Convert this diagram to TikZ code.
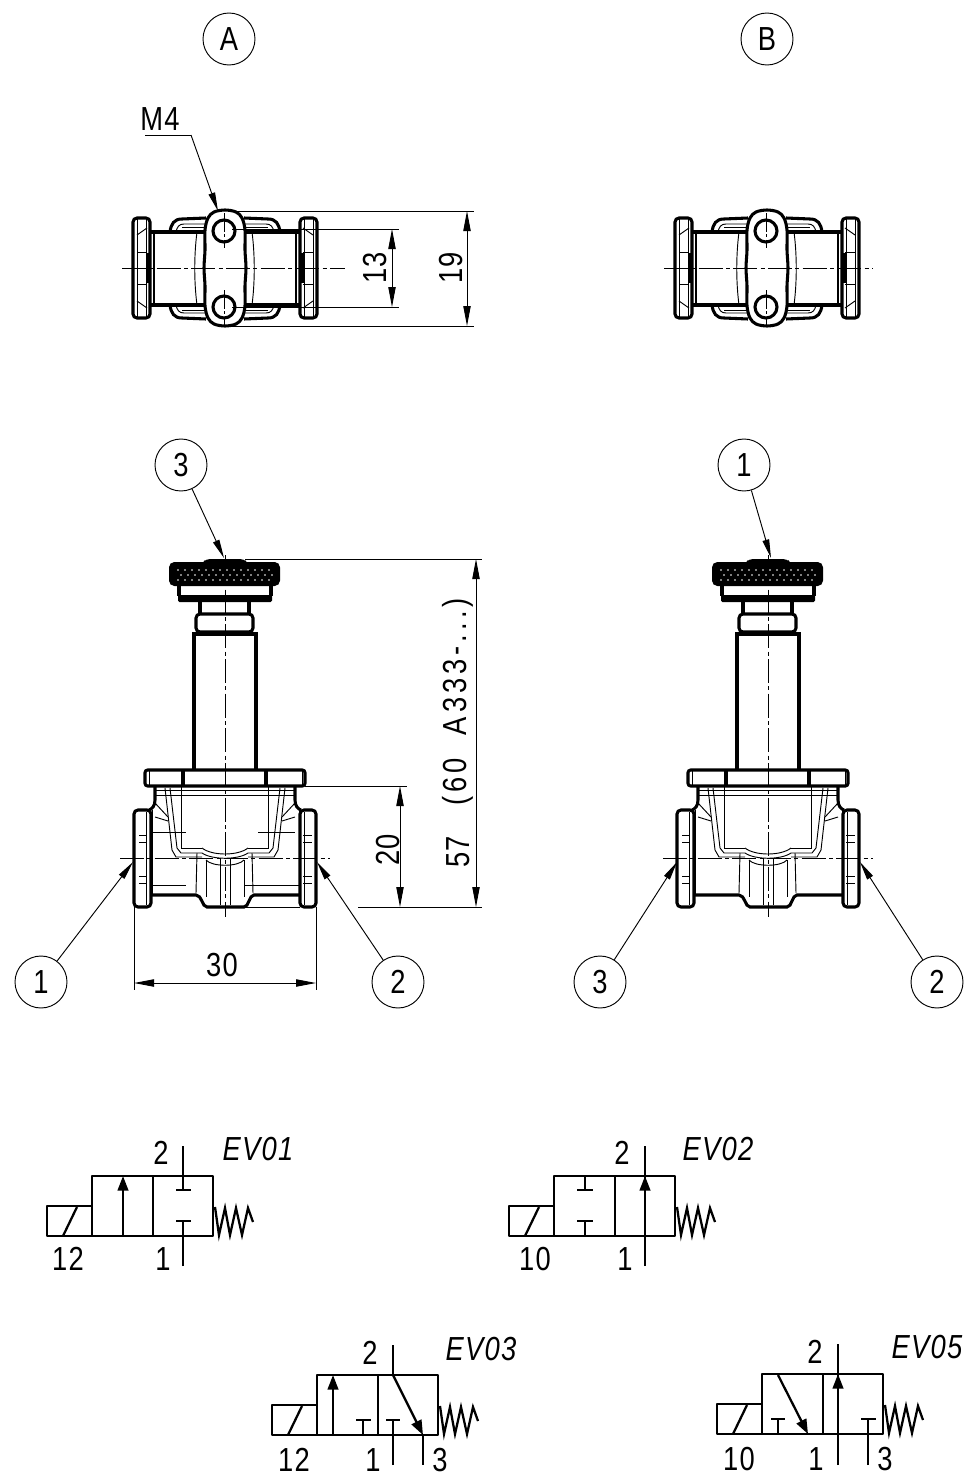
\documentclass[tikz,border=0pt]{standalone}
\usepackage{fontspec}
\setmainfont{Liberation Sans}[FakeStretch=0.82,LetterSpace=4]
\usetikzlibrary{arrows.meta}

\tikzset{
  thickl/.style={line width=2.3pt},
  thinl/.style={line width=0.7pt},
  axisl/.style={line width=0.7pt,dash pattern=on 18pt off 2.5pt on 3pt off 2.5pt},
  dimline/.style={line width=0.7pt,{Triangle[length=15pt,width=5.5pt]}-{Triangle[length=15pt,width=5.5pt]}},
  leader/.style={line width=0.7pt,-{Triangle[length=14pt,width=5pt]}},
  lbl/.style={font=\fontsize{25}{25}\selectfont,inner sep=0pt},
  ttl/.style={font=\fontsize{25}{25}\selectfont\itshape,inner sep=0pt},
  balloon/.style={circle,draw,line width=0.7pt,minimum size=39pt,inner sep=0pt,font=\fontsize{25}{25}\selectfont},
  sym/.style={line width=1.7pt},
  flowtip/.style={line width=1.7pt,-{Triangle[length=11pt,width=8pt]}}
}

\begin{document}
\begin{tikzpicture}[x=0.75pt,y=0.75pt,yscale=-1,xscale=1]
\useasboundingbox (0,0) rectangle (980,1484);

% top views
\foreach \vx in {0,542} {
\begin{scope}[shift={(\vx,0)}]
\draw[thickl,rounded corners=3] (133,218) rectangle (150,318);
\draw[thickl,rounded corners=3] (300,218) rectangle (317,318);
\draw[thickl] (147.5,253) -- (147.5,283) (302.5,253) -- (302.5,283);
\draw[thinl] (137,218) -- (137,318) (146,218) -- (146,318) (304,218) -- (304,318) (313,218) -- (313,318);
\draw[thinl] (137,252) -- (147,252) (137,284) -- (147,284) (303,252) -- (313,252) (303,284) -- (313,284);
\draw[thinl] (137,235) -- (147,228) (137,301) -- (147,308) (313,235) -- (303,228) (313,301) -- (303,308);
\draw[thickl] (150,232) -- (206,232) (150,305) -- (206,305) (244,232) -- (300,232) (244,305) -- (300,305);
\draw[line width=1.2pt] (154,232) -- (154,305) (296,232) -- (296,305);
\draw[thickl] (170,232) .. controls (171,224) and (174,219) .. (182,219) -- (206,218);
\draw[thickl] (170,305) .. controls (171,313) and (174,318) .. (182,318) -- (206,319);
\draw[thickl] (280,232) .. controls (279,224) and (276,219) .. (268,219) -- (244,218);
\draw[thickl] (280,305) .. controls (279,313) and (276,318) .. (268,318) -- (244,319);
\draw[thinl] (176,232) .. controls (177,227) and (179,224) .. (184,224) -- (206,224);
\draw[thinl] (176,305) .. controls (177,310) and (179,313) .. (184,313) -- (206,313);
\draw[thinl] (274,232) .. controls (273,227) and (271,224) .. (266,224) -- (244,224);
\draw[thinl] (274,305) .. controls (273,310) and (271,313) .. (266,313) -- (244,313);
\draw[thinl] (182,227) -- (204,227) (182,310) -- (204,310) (246,227) -- (268,227) (246,310) -- (268,310);
\draw[thinl] (197,232) .. controls (194,255) and (194,282) .. (197,305);
\draw[thinl] (252,232) .. controls (255,255) and (255,282) .. (252,305);
\draw[thickl,fill=white] plot[smooth cycle,tension=0.55] coordinates {(225,210) (236,212) (242,218) (245,230) (245,250) (246,268) (245,286) (245,306) (242,318) (236,324) (225,326) (214,324) (208,318) (205,306) (205,286) (204,268) (205,250) (205,230) (208,218) (214,212)};
\draw[thickl] (224,231) circle (11) (224,307) circle (11);
\draw[thinl,dash pattern=on 14pt off 2pt on 2pt off 2pt] (224,213) -- (224,248) (224,290) -- (224,325);
\end{scope}
}
\draw[axisl] (122,268) -- (345,268);
\draw[axisl] (664,268) -- (873,268);

% side views
\foreach \vx in {0,543} {
\begin{scope}[shift={(\vx,0)}]
\fill[rounded corners=3] (202,563) -- (206,559) -- (244,559) -- (248,563) -- cycle;
\fill[rounded corners=4] (169,562) rectangle (280,586);
\foreach \dx in {0,...,13} {
  \fill[white] ({178+7*\dx},570) circle (0.9);
  \fill[white] ({181+7*\dx},575) circle (0.9);
  \fill[white] ({178+7*\dx},580) circle (0.9);
}
\draw[thickl] (179,586) -- (179,596) (271,586) -- (271,596);
\fill[rounded corners=1] (178,595) rectangle (272,602);
\draw[thickl] (200,602) -- (200,614) (249,602) -- (249,614);
\draw[thickl,rounded corners=3] (196,614) rectangle (253,632);
\draw[thickl] (194,770) -- (194,634) -- (256,634) -- (256,770);
\draw[thickl,rounded corners=2] (145,770) rectangle (305,786);
\draw[thickl] (183,770) -- (183,786) (266,770) -- (266,786);
\draw[thinl] (149,770) -- (149,786) (302,770) -- (302,786);
\draw[thickl,rounded corners=3] (134,810) rectangle (151,907);
\draw[thickl,rounded corners=3] (300,810) rectangle (316,907);
\draw[thickl] (155,787) -- (155,800) .. controls (155,806) and (152,809) .. (149,810);
\draw[thickl] (295,787) -- (295,800) .. controls (295,806) and (298,809) .. (301,810);
\draw[thickl] (151,895) -- (196,895) .. controls (202,895) and (202,907) .. (207,907) -- (244,907) .. controls (249,907) and (249,895) .. (254,895) -- (300,895);
\draw[thinl] (146,812) -- (146,905) (304,812) -- (304,905);
\draw[thinl] (139,835) -- (147,835) (139,842) -- (147,842) (139,876) -- (147,876) (139,883) -- (147,883);
\draw[thinl] (303,835) -- (312,835) (303,842) -- (312,842) (303,876) -- (312,876) (303,883) -- (312,883);
\draw[thinl] (155,790) -- (295,790) (155,795) -- (295,795);
\draw[thinl] (181,787) -- (181,848) -- (202,848);
\draw[thinl] (268,787) -- (268,848) -- (248,848);
\draw[thinl] (165,788) -- (172,850) -- (176,857) -- (202,857);
\draw[thinl] (170,788) -- (177,848) -- (181,853) -- (202,853);
\draw[thinl] (285,788) -- (278,850) -- (274,857) -- (248,857);
\draw[thinl] (280,788) -- (273,848) -- (269,853) -- (248,853);
\draw[thinl] (155,803) -- (168,817) (155,817) -- (168,821) (295,803) -- (282,817) (295,817) -- (282,821);
\draw[thinl] (202,848) .. controls (212,856) and (238,856) .. (248,848);
\draw[thinl] (202,853) .. controls (212,860) and (238,860) .. (248,853);
\draw[thinl] (206,860) .. controls (212,867) and (238,867) .. (244,860);
\draw[thinl] (197,853) -- (196,893) (252,853) -- (253,893);
\draw[thinl] (206,860) -- (206,897) (244,860) -- (244,897);
\draw[thinl] (220,859) -- (220,905) (230,859) -- (230,905);
\draw[thinl] (152,810) -- (152,895) (299,810) -- (299,895);
\end{scope}
}
\draw[thinl] (153,832) -- (186,832) (258,832) -- (295,832);
\draw[thinl] (152,885) -- (186,885) (245,885) -- (299,885);
\draw[axisl] (225,555) -- (225,917);
\draw[axisl] (768,555) -- (768,917);
\draw[axisl] (120,858) -- (330,858);
\draw[axisl] (663,858) -- (873,858);

% view letters and balloons
\node[balloon] (viewA) at (229,39) {A};
\node[balloon] (viewB) at (767,39) {B};
\node[balloon] (portA3) at (181,465) {3};
\node[balloon] (portA1) at (41,982) {1};
\node[balloon] (portA2) at (398,982) {2};
\node[balloon] (portB1) at (744,465) {1};
\node[balloon] (portB3) at (600,982) {3};
\node[balloon] (portB2) at (937,982) {2};
\coordinate (tipA3) at (224,558);
\coordinate (tipA1) at (133,862);
\coordinate (tipA2) at (317,862);
\coordinate (tipB1) at (771,558);
\coordinate (tipB3) at (677,862);
\coordinate (tipB2) at (860,862);
\draw[leader] (portA3) -- (tipA3);
\draw[leader] (portA1) -- (tipA1);
\draw[leader] (portA2) -- (tipA2);
\draw[leader] (portB1) -- (tipB1);
\draw[leader] (portB3) -- (tipB3);
\draw[leader] (portB2) -- (tipB2);

% thread callout
\node[lbl] (threadlbl) at (160,119) {M4};
\coordinate (threadstart) at (145,135);
\coordinate (threadknee) at (191,135);
\coordinate (threadtip) at (218,211);
\draw[thinl] (threadstart) -- (threadknee);
\draw[leader] (threadknee) -- (threadtip);

% dimensions
\coordinate (d13top) at (392,229);
\coordinate (d13bot) at (392,307);
\coordinate (d19top) at (467,211);
\coordinate (d19bot) at (467,326);
\draw[thinl] (232,229) -- (399,229) (232,307) -- (399,307);
\draw[thinl] (228,211) -- (474,211) (228,326) -- (474,326);
\draw[dimline] (d13top) -- (d13bot);
\draw[dimline] (d19top) -- (d19bot);
\node[lbl,rotate=90] (d13lbl) at (375,268) {13};
\node[lbl,rotate=90] (d19lbl) at (451,268) {19};

\coordinate (d57top) at (476,559);
\coordinate (d57bot) at (476,907);
\coordinate (d20top) at (400,786);
\coordinate (d20bot) at (400,907);
\coordinate (d30left) at (134,983);
\coordinate (d30right) at (316,983);
\draw[thinl] (245,559) -- (482,559) (305,786) -- (407,786) (358,907) -- (482,907);
\draw[thinl] (245,907) -- (300,907);
\draw[thinl] (134,907) -- (134,990) (316,907) -- (316,990);
\draw[dimline] (d57top) -- (d57bot);
\draw[dimline] (d20top) -- (d20bot);
\draw[dimline] (d30left) -- (d30right);
\node[lbl,rotate=90] (d20lbl) at (388,850) {20};
\node[lbl,rotate=90] (d57lbl) at (458,852) {57};
\node[lbl,rotate=90] (d60lbl) at (458,702) {\addfontfeature{LetterSpace=12}(60 \ A333-...)};
\node[lbl] (d30lbl) at (222,965) {30};

% valve bodies
\foreach \vx/\vy in {47/1236,509/1236,272/1435,717/1434} {
\begin{scope}[shift={(\vx,\vy)}]
\draw[sym,line join=round] (45,-30) -- (0,-30) -- (0,0) -- (45,0);
\draw[sym,line join=round] (45,0) rectangle (166,-60);
\draw[sym] (106,0) -- (106,-60);
\draw[sym] (16,0) -- (30,-29);
\draw[sym] (168,-29) -- (172,-1) -- (178,-28) -- (183,-1) -- (189,-28) -- (195,-1) -- (201,-28) -- (206,-14);
\end{scope}
}

% EV01
\draw[flowtip] (123,1236) -- (123,1176);
\draw[sym] (183,1146) -- (183,1190) (176,1190) -- (191,1190);
\draw[sym] (183,1266) -- (183,1221) (176,1221) -- (191,1221);
\node[lbl] (ev1p2) at (161,1153) {2};
\node[ttl] (ev1name) at (258,1149) {EV01};
\node[lbl] (ev1p12) at (68,1259) {12};
\node[lbl] (ev1p1) at (163,1259) {1};

% EV02
\draw[flowtip] (645,1266) -- (645,1176);
\draw[sym] (645,1180) -- (645,1146);
\draw[sym] (585,1176) -- (585,1190) (577,1190) -- (593,1190);
\draw[sym] (585,1236) -- (585,1221) (577,1221) -- (593,1221);
\node[lbl] (ev2p2) at (622,1153) {2};
\node[ttl] (ev2name) at (718,1149) {EV02};
\node[lbl] (ev2p10) at (535,1259) {10};
\node[lbl] (ev2p1) at (625,1259) {1};

% EV03
\draw[flowtip] (333,1435) -- (333,1375);
\draw[sym] (363,1435) -- (363,1420) (356,1420) -- (371,1420);
\draw[sym] (393,1465) -- (393,1420) (386,1420) -- (400,1420);
\draw[sym] (393,1345) -- (393,1375);
\draw[flowtip] (393,1375) -- (423,1435);
\draw[sym] (423,1435) -- (423,1465);
\node[lbl] (ev3p2) at (370,1353) {2};
\node[ttl] (ev3name) at (481,1349) {EV03};
\node[lbl] (ev3p12) at (294,1460) {12};
\node[lbl] (ev3p1) at (373,1460) {1};
\node[lbl] (ev3p3) at (440,1460) {3};

% EV05
\draw[flowtip] (778,1375) -- (808,1434);
\draw[sym] (778,1434) -- (778,1419) (771,1419) -- (785,1419);
\draw[flowtip] (838,1465) -- (838,1374);
\draw[sym] (838,1378) -- (838,1344);
\draw[sym] (868,1465) -- (868,1419) (861,1419) -- (876,1419);
\node[lbl] (ev5p2) at (815,1352) {2};
\node[ttl] (ev5name) at (927,1347) {EV05};
\node[lbl] (ev5p10) at (739,1459) {10};
\node[lbl] (ev5p1) at (816,1459) {1};
\node[lbl] (ev5p3) at (885,1459) {3};

\end{tikzpicture}
\end{document}
